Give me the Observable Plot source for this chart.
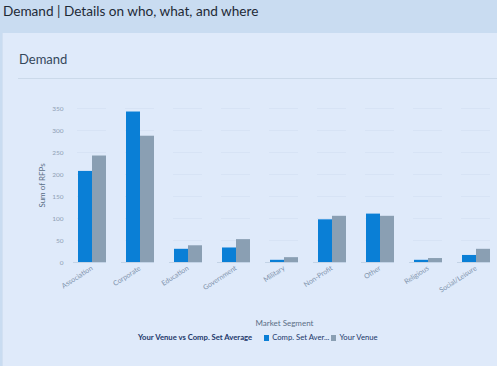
<!DOCTYPE html>
<html>
<head>
<meta charset="utf-8">
<script src="https://cdn.jsdelivr.net/npm/d3@7"></script>
<script src="https://cdn.jsdelivr.net/npm/@observablehq/plot@0.6"></script>
<style>
  html, body { margin: 0; padding: 0; width: 497px; height: 366px; overflow: hidden; background: #c9dcf1; font-family: Lato, "Open Sans", sans-serif; }
  #header { position: absolute; left: 0; top: 0; width: 497px; height: 33px; background: #c9dcf1; }
  #header span { position: absolute; left: 3px; top: 3px; font-size: 13.6px; color: #1e2a36; }
  #panel { position: absolute; left: 2px; top: 33px; width: 495px; height: 333px; background: #dfeafa; border-left: 1px solid #d2e0f2; overflow: hidden; }
  #ptitle { position: absolute; left: 16px; top: 18px; font-size: 13px; color: #34475a; }
  #rule { position: absolute; left: 15px; top: 45px; width: 480px; height: 1px; background: #cbd9ea; }
  #chart { position: absolute; left: -4px; top: 62px; width: 510px; }
  #xtitle { position: absolute; left: 0; width: 563px; text-align: center; top: 285px; font-size: 8px; color: #5b6e86; }
  #legend { position: absolute; left: 135px; top: 299px; font-size: 7.7px; color: #22386b; white-space: nowrap; }
  #legend b { font-weight: 700; margin-right: 12px; }
  .sw { display: inline-block; width: 5px; height: 6px; margin-right: 3px; vertical-align: -0.5px; }
</style>
</head>
<body>
<div id="header"><span>Demand | Details on who, what, and where</span></div>
<div id="panel">
  <div id="ptitle">Demand</div>
  <div id="rule"></div>
  <div id="chart"></div>
  <div id="xtitle">Market Segment</div>
  <div id="legend"><b>Your Venue vs Comp. Set Average</b><span class="sw" style="background:#0a7fd6"></span>Comp. Set Aver... <span class="sw" style="background:#8a9fb3"></span>Your Venue</div>
</div>
<script>
const segments = ["Association", "Corporate", "Education", "Government", "Military", "Non-Profit", "Other", "Religious", "Social/Leisure"];
const series = ["Comp. Set Average", "Your Venue"];
const compSet = [207, 342, 30, 33, 5, 97, 110, 5, 16];
const yourVenue = [242, 287, 38, 52, 11, 105, 105, 9, 30];
const yTicks = [0, 50, 100, 150, 200, 250, 300, 350];
const colors = ["#0a7fd6", "#8a9fb3"];

const data = [];
segments.forEach((s, i) => {
  data.push({segment: s, series: series[0], value: compSet[i]});
  data.push({segment: s, series: series[1], value: yourVenue[i]});
});

const chart = Plot.plot({
  width: 510,
  height: 215,
  marginLeft: 67,
  marginRight: 8,
  marginTop: 13,
  marginBottom: 48,
  style: { background: "transparent", fontFamily: "Lato, 'Open Sans', sans-serif", overflow: "visible", maxWidth: "none" },
  fx: { domain: segments, paddingInner: 0.4, paddingOuter: 0.2, label: null },
  x: { domain: series, padding: 0, axis: null },
  y: { domain: [0, 350], ticks: yTicks },
  color: { domain: series, range: colors },
  marks: [
    Plot.gridY(yTicks, { stroke: "#c9d8ea", strokeOpacity: 0.35 }),
    Plot.axisFx({ anchor: "bottom", fontSize: 7, fill: "#8194ad", tickRotate: -33, tickSize: 0, tickPadding: 5, label: null, textAnchor: "end" }),
    Plot.axisY(yTicks, { fontSize: 6.5, fill: "#8f9fb4", tickSize: 0, tickPadding: 14, label: null }),
    Plot.axisY([], { fontSize: 8, fill: "#5b6e86", tickSize: 0, label: "Sum of RFPs", labelAnchor: "center", labelOffset: 38, labelArrow: "none" }),
    Plot.barY(data, { fx: "segment", x: "series", y: "value", fill: "series" }),
    Plot.ruleY([0], { stroke: "#c3d3e6", strokeWidth: 1, insetLeft: -4 })
  ]
});
document.getElementById("chart").appendChild(chart);
</script>
</body>
</html>
